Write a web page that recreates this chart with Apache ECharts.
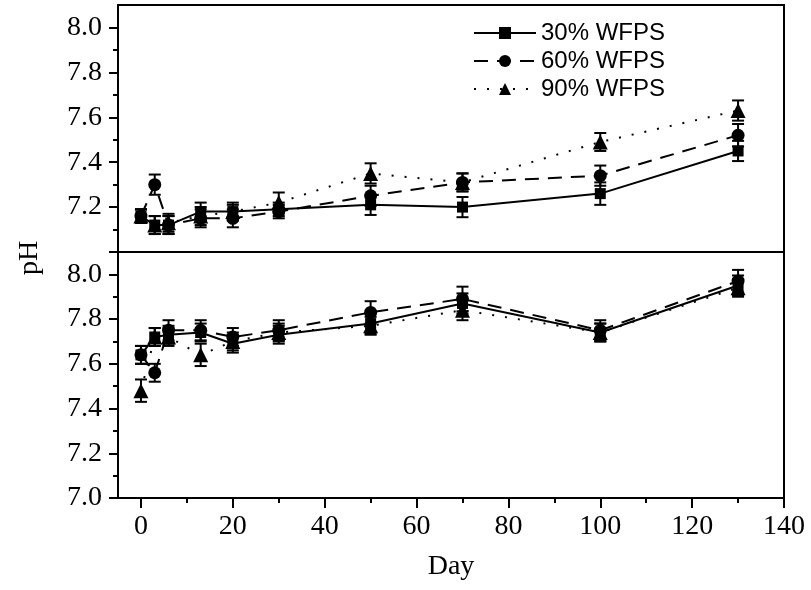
<!DOCTYPE html>
<html>
<head>
<meta charset="utf-8">
<script src="https://cdn.jsdelivr.net/npm/echarts@6/dist/echarts.min.js"></script>
<style>
html,body{margin:0;padding:0;background:#fff;}
#chart{width:811px;height:590px;}
</style>
</head>
<body>
<div id="chart"></div>
<script>
// ---- data ----
var days = [0, 3, 6, 13, 20, 30, 50, 70, 100, 130];
var seriesNames = ['30% WFPS', '60% WFPS', '90% WFPS'];

// top panel
var top30 = [7.16, 7.12, 7.12, 7.18, 7.18, 7.19, 7.21, 7.20, 7.26, 7.45];
var top60 = [7.16, 7.30, 7.12, 7.15, 7.15, 7.18, 7.25, 7.31, 7.34, 7.52];
var top90 = [7.16, 7.12, 7.13, 7.16, 7.18, 7.22, 7.35, 7.31, 7.49, 7.63];
var top30Err = [0.03, 0.04, 0.04, 0.04, 0.03, 0.03, 0.045, 0.045, 0.05, 0.045];
var top60Err = [0.03, 0.045, 0.04, 0.04, 0.04, 0.03, 0.045, 0.04, 0.045, 0.05];
var top90Err = [0.03, 0.04, 0.04, 0.04, 0.04, 0.045, 0.045, 0.04, 0.04, 0.045];

// bottom panel
var bot30 = [7.64, 7.72, 7.73, 7.74, 7.69, 7.73, 7.78, 7.87, 7.74, 7.95];
var bot60 = [7.64, 7.56, 7.75, 7.75, 7.72, 7.75, 7.83, 7.89, 7.75, 7.97];
var bot90 = [7.48, 7.72, 7.72, 7.64, 7.70, 7.74, 7.77, 7.84, 7.74, 7.94];
var bot30Err = [0.04, 0.04, 0.04, 0.04, 0.04, 0.04, 0.045, 0.045, 0.04, 0.045];
var bot60Err = [0.04, 0.04, 0.045, 0.045, 0.04, 0.045, 0.05, 0.055, 0.045, 0.05];
var bot90Err = [0.05, 0.04, 0.04, 0.05, 0.04, 0.04, 0.04, 0.045, 0.04, 0.04];

// ticks
var xMajorTicks = [0, 20, 40, 60, 80, 100, 120, 140];
var xMinorTicks = [10, 30, 50, 70, 90, 110, 130];
var yMajorTicks = [7.0, 7.2, 7.4, 7.6, 7.8, 8.0];
var yMinorTicks = [7.1, 7.3, 7.5, 7.7, 7.9];
var yTopLabels = [7.2, 7.4, 7.6, 7.8, 8.0];
var yBotLabels = [7.0, 7.2, 7.4, 7.6, 7.8, 8.0];

// ---- chart ----
var serifFont = '"Liberation Serif", "Times New Roman", serif';
var sansFont = '"Liberation Sans", Arial, sans-serif';
var styles = [
  {symbol: 'rect', symbolSize: 11, type: 'solid'},
  {symbol: 'circle', symbolSize: 13, type: [14, 9]},
  {symbol: 'triangle', symbolSize: 15, type: [2, 11]}
];

function pairs(v) { return days.map(function (d, i) { return [d, v[i]]; }); }
function errData(v, e) { return days.map(function (d, i) { return [d, v[i] - e[i], v[i] + e[i]]; }); }

function errRender(params, api) {
  var x = api.value(0);
  var lo = api.coord([x, api.value(1)]);
  var hi = api.coord([x, api.value(2)]);
  var w = 6;
  var st = {stroke: '#000', lineWidth: 2};
  return {type: 'group', children: [
    {type: 'line', shape: {x1: lo[0], y1: lo[1], x2: hi[0], y2: hi[1]}, style: st},
    {type: 'line', shape: {x1: hi[0] - w, y1: hi[1], x2: hi[0] + w, y2: hi[1]}, style: st},
    {type: 'line', shape: {x1: lo[0] - w, y1: lo[1], x2: lo[0] + w, y2: lo[1]}, style: st}
  ]};
}

var panels = [
  {vals: [top30, top60, top90], errs: [top30Err, top60Err, top90Err]},
  {vals: [bot30, bot60, bot90], errs: [bot30Err, bot60Err, bot90Err]}
];

var series = [];
panels.forEach(function (p, gi) {
  p.vals.forEach(function (v, si) {
    series.push({
      type: 'custom',
      name: 'err' + gi + si,
      xAxisIndex: gi * 2,
      yAxisIndex: gi * 2,
      renderItem: errRender,
      encode: {x: 0, y: [1, 2]},
      data: errData(v, p.errs[si]),
      z: 3,
      silent: true
    });
    series.push({
      type: 'line',
      name: seriesNames[si],
      xAxisIndex: gi * 2,
      yAxisIndex: gi * 2,
      data: pairs(v),
      symbol: styles[si].symbol,
      symbolSize: styles[si].symbolSize,
      showAllSymbol: true,
      itemStyle: {color: '#000', borderWidth: 0},
      lineStyle: {color: '#000', width: 2, type: styles[si].type},
      z: 4
    });
  });
});

var gridLeft = 118, gridWidth = 666;
var grids = [
  {left: gridLeft, width: gridWidth, top: 5, height: 247, show: true, borderColor: '#000', borderWidth: 2, backgroundColor: 'transparent'},
  {left: gridLeft, width: gridWidth, top: 252, height: 246, show: true, borderColor: '#000', borderWidth: 2, backgroundColor: 'transparent'}
];

function xAxes(gi) {
  var main = {
    type: 'value', gridIndex: gi, min: -5, max: 140, position: 'bottom',
    axisLine: {show: gi === 1, onZero: false, lineStyle: {color: '#000', width: 2}},
    axisTick: {show: gi === 1, customValues: xMajorTicks, length: 10, lineStyle: {color: '#000', width: 2}},
    axisLabel: {show: gi === 1, customValues: xMajorTicks, margin: 15, color: '#000', fontFamily: serifFont, fontSize: 28},
    splitLine: {show: false}
  };
  if (gi === 1) {
    main.name = 'Day';
    main.nameLocation = 'middle';
    main.nameGap = 55;
    main.nameTextStyle = {color: '#000', fontFamily: serifFont, fontSize: 28};
  }
  var minor = {
    type: 'value', gridIndex: gi, min: -5, max: 140, position: 'bottom',
    axisLine: {show: false, onZero: false},
    axisTick: {show: gi === 1, customValues: xMinorTicks, length: 5, lineStyle: {color: '#000', width: 2}},
    axisLabel: {show: false},
    splitLine: {show: false}
  };
  return [main, minor];
}

function yAxes(gi) {
  var main = {
    type: 'value', gridIndex: gi, min: 7.0, max: 8.1, position: 'left',
    axisLine: {show: true, onZero: false, lineStyle: {color: '#000', width: 2}},
    axisTick: {show: true, customValues: yMajorTicks, length: 9, lineStyle: {color: '#000', width: 2}},
    axisLabel: {show: true, customValues: gi === 0 ? yTopLabels : yBotLabels, margin: 16, color: '#000',
      fontFamily: serifFont, fontSize: 28, formatter: function (v) { return v.toFixed(1); }},
    splitLine: {show: false}
  };
  var minor = {
    type: 'value', gridIndex: gi, min: 7.0, max: 8.1, position: 'left', offset: 0,
    axisLine: {show: false, onZero: false},
    axisTick: {show: true, customValues: yMinorTicks, length: 5, lineStyle: {color: '#000', width: 2}},
    axisLabel: {show: false},
    splitLine: {show: false}
  };
  return [main, minor];
}

var chart = echarts.init(document.getElementById('chart'), null, {renderer: 'canvas'});
chart.setOption({
  backgroundColor: '#fff',
  animation: false,
  grid: grids,
  xAxis: xAxes(0).concat(xAxes(1)),
  yAxis: yAxes(0).concat(yAxes(1)),
  legend: {
    data: seriesNames,
    orient: 'vertical',
    left: 468,
    top: 16,
    itemWidth: 62,
    itemHeight: 15,
    itemGap: 4,
    textStyle: {color: '#000', fontFamily: sansFont, fontSize: 24},
    selectedMode: false
  },
  graphic: [{
    type: 'text',
    x: 30, y: 258,
    rotation: Math.PI / 2,
    style: {text: 'pH', fill: '#000', font: '28px ' + serifFont, textAlign: 'center', textVerticalAlign: 'middle'}
  }],
  series: series
});
</script>
</body>
</html>
